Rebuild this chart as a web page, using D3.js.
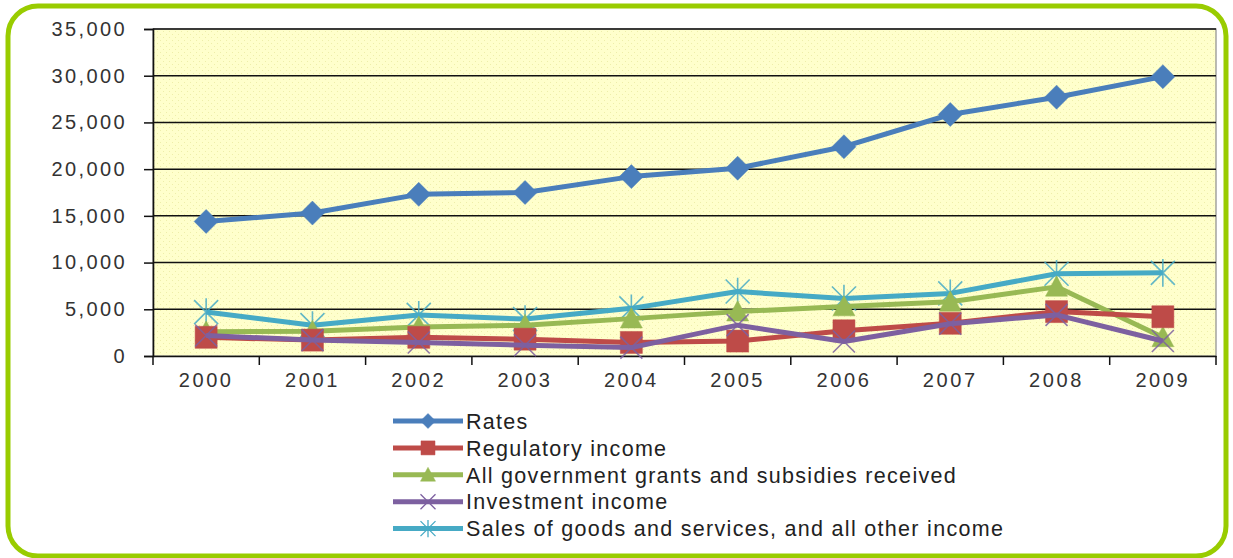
<!DOCTYPE html>
<html>
<head>
<meta charset="utf-8">
<script src="https://cdn.jsdelivr.net/npm/d3@7"></script>
<style>
  html, body { margin: 0; padding: 0; background: #ffffff; }
  svg { display: block; font-family: "Liberation Sans", Arial, sans-serif; }
</style>
</head>
<body>
<svg id="chart" width="1233" height="558"></svg>
<script>
// Operating income by source, 2000–2009
const years = ["2000", "2001", "2002", "2003", "2004", "2005", "2006", "2007", "2008", "2009"];
const yTicks = [0, 5000, 10000, 15000, 20000, 25000, 30000, 35000];

const rates      = [14400, 15300, 17300, 17500, 19200, 20100, 22400, 25850, 27700, 29900];
const regulatory = [2000, 1700, 2000, 1800, 1450, 1600, 2700, 3500, 4750, 4200];
const grants     = [2600, 2650, 3100, 3300, 4000, 4750, 5300, 5800, 7400, 2000];
const investment = [2200, 1700, 1450, 1150, 900, 3300, 1550, 3450, 4400, 1600];
const sales      = [4700, 3300, 4400, 3950, 5100, 6900, 6150, 6700, 8800, 8900];

const seriesNames = [
  "Rates",
  "Regulatory income",
  "All government grants and subsidies received",
  "Investment income",
  "Sales of goods and services, and all other income"
];

const series = [
  { name: seriesNames[0], values: rates,      color: "#4a7ebb", marker: "diamond" },
  { name: seriesNames[1], values: regulatory, color: "#be4b48", marker: "square" },
  { name: seriesNames[2], values: grants,     color: "#98b954", marker: "triangle" },
  { name: seriesNames[3], values: investment, color: "#7d60a0", marker: "times" },
  { name: seriesNames[4], values: sales,      color: "#46aac5", marker: "asterisk" }
];
// draw order: lowest layer first, rates on top
const drawOrder = [4, 2, 1, 3, 0];

const svg = d3.select("#chart");
const plot = { left: 153, right: 1216, top: 29, bottom: 356 };

const x = d3.scaleBand().domain(years).range([plot.left, plot.right]).paddingInner(0).paddingOuter(0);
const y = d3.scaleLinear().domain([0, 35000]).range([plot.bottom, plot.top]);

// outer rounded frame
svg.append("rect")
  .attr("x", 8).attr("y", 6)
  .attr("width", 1218).attr("height", 550)
  .attr("rx", 30).attr("ry", 30)
  .attr("fill", "#ffffff")
  .attr("stroke", "#99cc00")
  .attr("stroke-width", 5);

// dotted fill for the plot area
const defs = svg.append("defs");
const pat = defs.append("pattern")
  .attr("id", "dots").attr("width", 6).attr("height", 6)
  .attr("patternUnits", "userSpaceOnUse");
pat.append("rect").attr("width", 6).attr("height", 6).attr("fill", "#ffffcc");
pat.append("rect").attr("x", 1).attr("y", 1).attr("width", 1).attr("height", 1).attr("fill", "#eeeeaa");
pat.append("rect").attr("x", 4).attr("y", 4).attr("width", 1).attr("height", 1).attr("fill", "#eeeeaa");

svg.append("rect")
  .attr("x", plot.left).attr("y", plot.top)
  .attr("width", plot.right - plot.left).attr("height", plot.bottom - plot.top)
  .attr("fill", "url(#dots)")
  .attr("stroke", "#8c8c8c").attr("stroke-width", 1.2);

// horizontal gridlines
svg.append("g").selectAll("line")
  .data(yTicks.filter(d => d > 0))
  .join("line")
  .attr("x1", plot.left).attr("x2", plot.right)
  .attr("y1", d => y(d)).attr("y2", d => y(d))
  .attr("stroke", "#111111").attr("stroke-width", 1.5);

// y axis
const yAxis = svg.append("g")
  .attr("transform", `translate(${plot.left},0)`)
  .call(d3.axisLeft(y).tickValues(yTicks).tickFormat(d3.format(",")).tickSize(9).tickPadding(17));
yAxis.select(".domain").attr("stroke", "#111111").attr("stroke-width", 1.6);
yAxis.selectAll(".tick line").attr("stroke", "#111111").attr("stroke-width", 1.5);
yAxis.selectAll(".tick text")
  .attr("fill", "#333333")
  .style("font-size", "20px")
  .style("letter-spacing", "2.4px")
  .style("font-family", "'Liberation Sans', Arial, sans-serif");

// x axis: labels centred in each band, ticks on band boundaries
const xAxis = svg.append("g")
  .attr("transform", `translate(0,${plot.bottom})`)
  .call(d3.axisBottom(x).tickSize(0).tickPadding(17));
xAxis.select(".domain").attr("stroke", "#111111").attr("stroke-width", 1.6);
xAxis.selectAll(".tick text")
  .attr("fill", "#333333")
  .style("font-size", "20px")
  .style("letter-spacing", "2.6px")
  .style("font-family", "'Liberation Sans', Arial, sans-serif");

const boundaries = years.map(d => x(d)).concat([x(years[years.length - 1]) + x.bandwidth()]);
svg.append("g").selectAll("line")
  .data(boundaries)
  .join("line")
  .attr("x1", d => d).attr("x2", d => d)
  .attr("y1", plot.bottom).attr("y2", plot.bottom + 9)
  .attr("stroke", "#111111").attr("stroke-width", 1.5);

// marker shapes
function markerPath(kind, s) {
  const h = s / 2;
  switch (kind) {
    case "diamond":  return `M0,${-h}L${h},0L0,${h}L${-h},0Z`;
    case "square":   return `M${-h},${-h}H${h}V${h}H${-h}Z`;
    case "triangle": return `M0,${-h}L${h},${h * 0.85}L${-h},${h * 0.85}Z`;
    case "times":    return `M${-h},${-h}L${h},${h}M${-h},${h}L${h},${-h}`;
    case "asterisk": return `M${-h},${-h}L${h},${h}M${-h},${h}L${h},${-h}M0,${-h * 1.15}V${h * 1.15}`;
  }
}
const markerSize = { diamond: 24, square: 22, triangle: 22, times: 22, asterisk: 24 };
const isStroke = k => k === "times" || k === "asterisk";

const line = d3.line()
  .x((d, i) => x(years[i]) + x.bandwidth() / 2)
  .y(d => y(d));

drawOrder.forEach(idx => {
  const s = series[idx];
  const g = svg.append("g");
  g.append("path")
    .datum(s.values)
    .attr("d", line)
    .attr("fill", "none")
    .attr("stroke", s.color)
    .attr("stroke-width", 5)
    .attr("stroke-linejoin", "round");
  g.selectAll("path.mk")
    .data(s.values)
    .join("path")
    .attr("class", "mk")
    .attr("transform", (d, i) => `translate(${x(years[i]) + x.bandwidth() / 2},${y(d)})`)
    .attr("d", markerPath(s.marker, markerSize[s.marker]))
    .attr("fill", isStroke(s.marker) ? "none" : s.color)
    .attr("stroke", s.color)
    .attr("stroke-width", isStroke(s.marker) ? 1.6 : 0.5)
    .attr("stroke-opacity", isStroke(s.marker) ? 0.85 : 1);
});

// legend
const legend = svg.append("g").attr("transform", "translate(393,421)");
const rowH = 26.9;
series.forEach((s, i) => {
  const row = legend.append("g").attr("transform", `translate(0,${i * rowH})`);
  row.append("line")
    .attr("x1", 0).attr("x2", 70).attr("y1", 0).attr("y2", 0)
    .attr("stroke", s.color).attr("stroke-width", 5);
  row.append("path")
    .attr("transform", "translate(35,0)")
    .attr("d", markerPath(s.marker, s.marker === "square" ? 14 : 15))
    .attr("fill", isStroke(s.marker) ? "none" : s.color)
    .attr("stroke", s.color)
    .attr("stroke-width", isStroke(s.marker) ? 1.3 : 0.5);
  row.append("text")
    .attr("x", 73).attr("y", 0).attr("dy", "0.36em")
    .attr("fill", "#222222")
    .style("font-size", "21.5px")
    .style("letter-spacing", "1.3px")
    .text(s.name);
});
</script>
</body>
</html>
